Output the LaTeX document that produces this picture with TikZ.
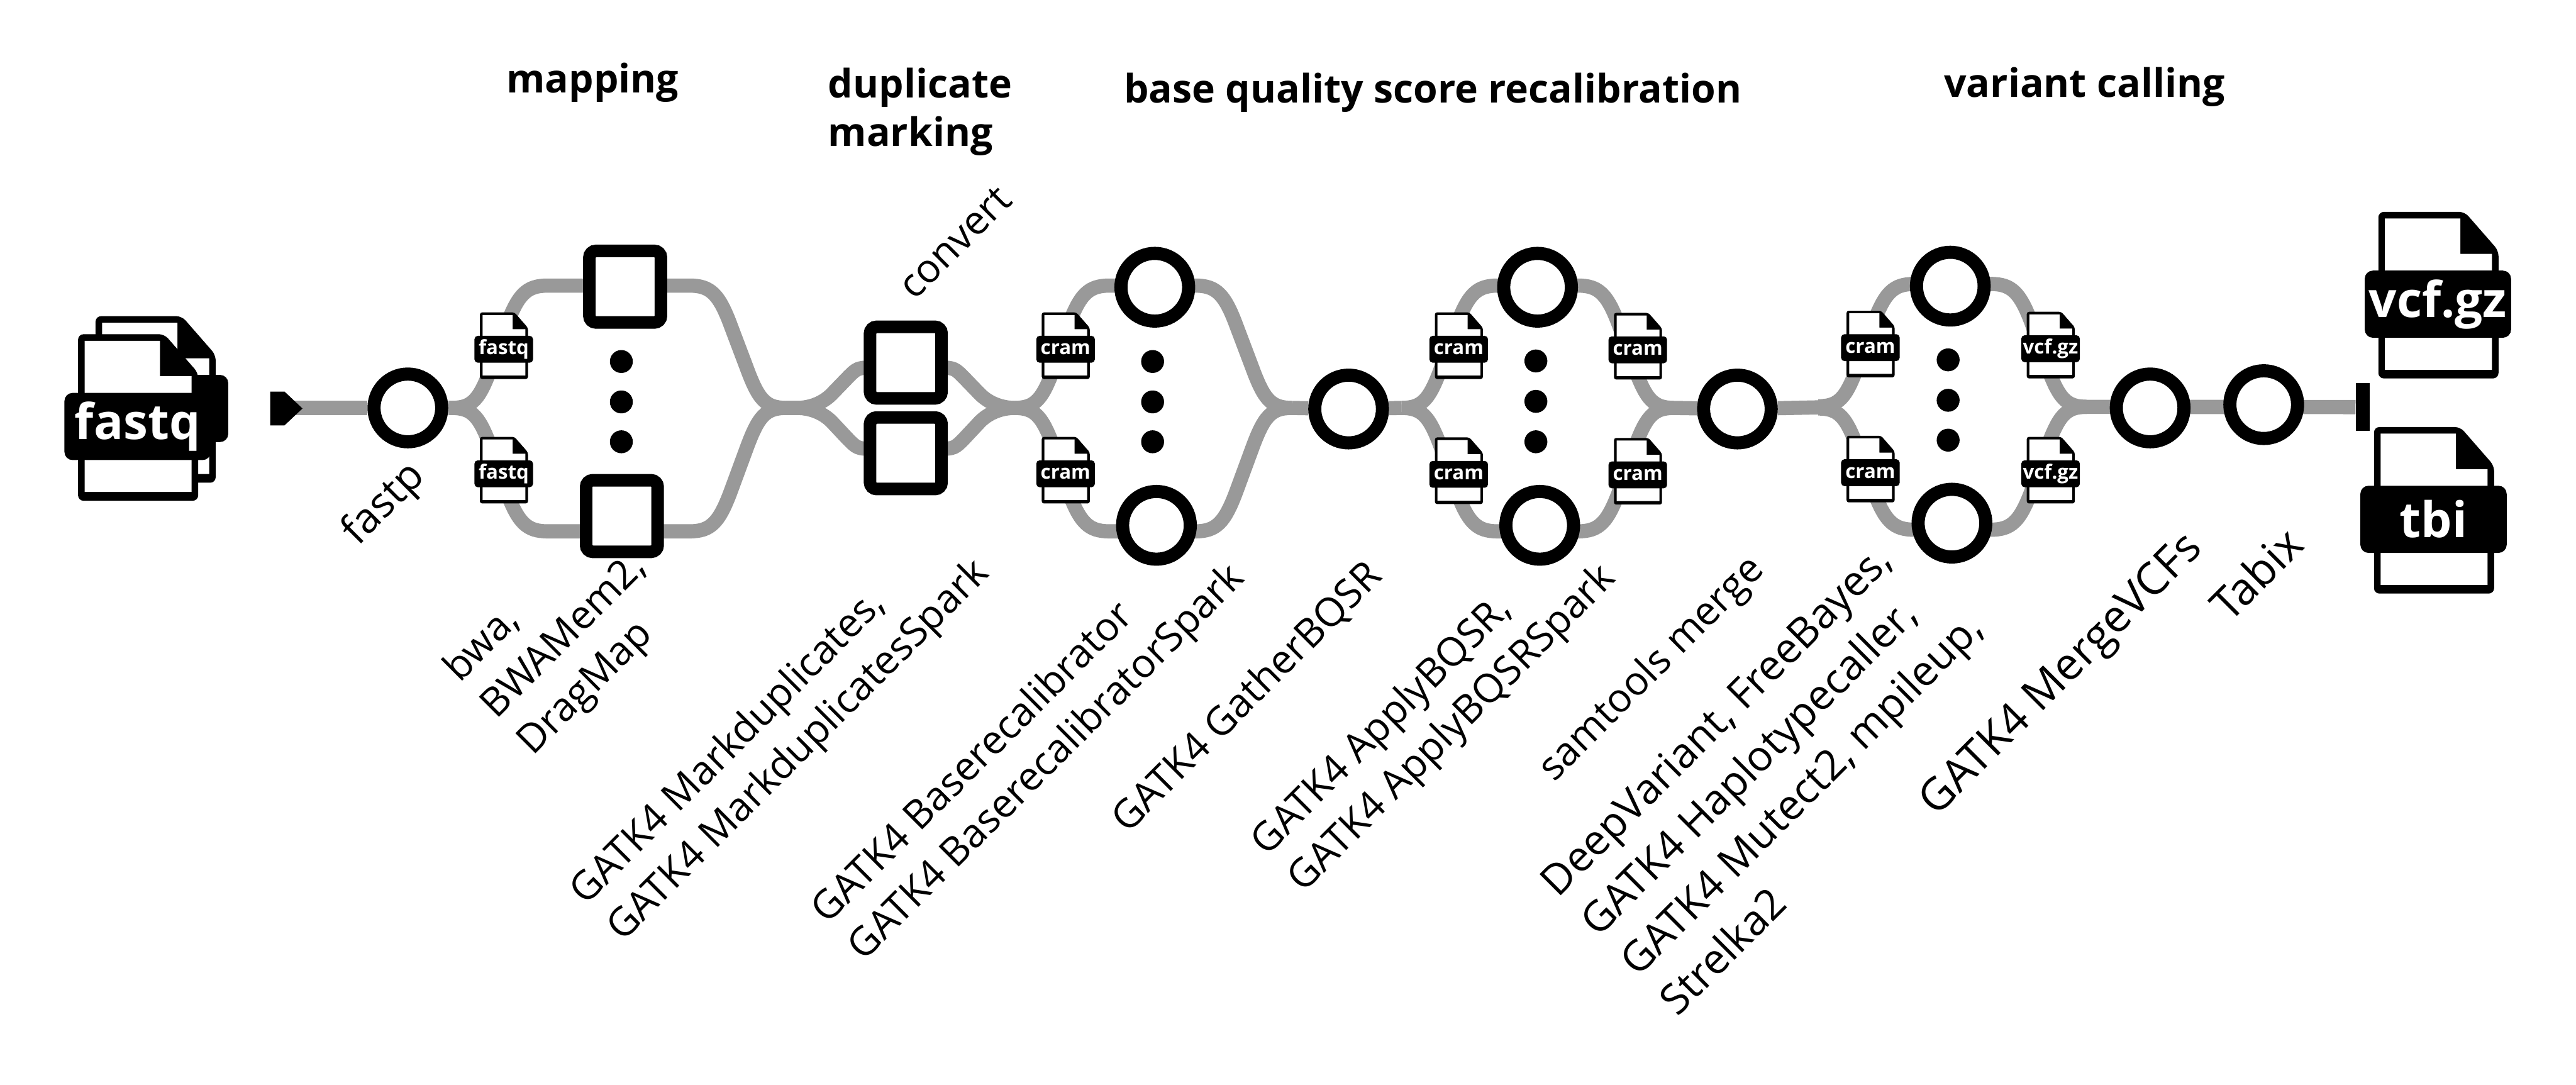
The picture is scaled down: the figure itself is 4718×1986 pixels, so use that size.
\documentclass[tikz,border=0pt]{standalone}
\usepackage{fontspec}
\setmainfont{Open Sans}
\usetikzlibrary{backgrounds,calc}
\definecolor{pipegrey}{HTML}{999999}
\tikzset{
  pipe/.style={draw=pipegrey,line width=6.5pt,line cap=butt},
  circ/.style={circle,draw=black,fill=white,line width=6pt,minimum size=31pt,inner sep=0pt},
  sq/.style={rectangle,draw=black,fill=white,line width=5.75pt,minimum size=32.75pt,inner sep=0pt,rounded corners=3pt},
  dot/.style={circle,fill=black,minimum size=10.5pt,inner sep=0pt},
  band/.style={rectangle,fill=black,text=white,inner sep=0pt},
  toollabel/.style={font=\fontsize{18.2}{23.75}\selectfont,align=left,rotate=45,anchor=base west,inner sep=0pt},
  heading/.style={font=\fontsize{18}{22.25}\selectfont\bfseries,align=left,anchor=base west,inner sep=0pt},
}
% name, x, y of the sheet's top left corner, scale, label
\newcommand\fileicon[5]{%
  \begin{scope}[shift={(#2,#3)},scale=#4]
    \pgfmathsetmacro\myrc{#4*2.5}
    \pgfmathsetmacro\myrb{#4*3.75}
    \pgfmathsetmacro\myfs{#4*22.5}
    \pgfmathsetmacro\mybw{#4*67}
    \pgfmathsetmacro\mybh{#4*30.75}
    \path[fill=black,rounded corners=\myrc pt] (0,0)--(158,0)--(220,71)--(220,305)--(0,305)--cycle;
    \path[fill=white] (12,12)--(150,12)--(150,77)--(208,77)--(208,289)--(12,289)--cycle;
    \node[band,rounded corners=\myrb pt,minimum width=\mybw pt,minimum height=\mybh pt,
      font=\bfseries\fontsize{\myfs}{\myfs}\selectfont] (#1) at (109,169) {#5};
  \end{scope}}
% one arm of a bundle: junction, arm start, arm end, junction, side (1 upper arm, -1 lower arm)
\newcommand\branch[5]{%
  \draw[pipe] (#1) .. controls +(38,0) and +(-22,#5*60) .. ($(#1)+(73,-#5*75)$)
    -- ($(#2)+(-76,#5*75)$) .. controls +(22,-#5*60) and +(-38,0) .. (#2)
    -- (#3) .. controls +(38,0) and +(-22,-#5*60) .. ($(#3)+(76,#5*75)$)
    -- ($(#4)+(-73,-#5*75)$) .. controls +(22,#5*60) and +(-38,0) .. (#4);}
\newcommand\tightbranch[5]{%
  \draw[pipe] (#1) .. controls +(24,0) and +(-16,#5*16) .. ($(#1)+(63,-#5*25)$)
    -- ($(#2)+(-47,#5*18)$) .. controls +(16,-#5*16) and +(-30,0) .. (#2)
    -- (#3) .. controls +(30,0) and +(-16,-#5*16) .. ($(#3)+(47,#5*18)$)
    -- ($(#4)+(-63,-#5*25)$) .. controls +(16,#5*16) and +(-24,0) .. (#4);}
\begin{document}
\begin{tikzpicture}[x=0.25pt,y=-0.25pt]
\useasboundingbox (0,0) rectangle (4718,1986);

% process nodes
\node[circ] (fastp) at (747,747) {};
\node[sq] (bwaT) at (1145,525) {};
\node[sq] (bwaB) at (1139,945) {};
\node[dot] (d1a) at (1138,662) {};
\node[dot] (d1b) at (1138,736) {};
\node[dot] (d1c) at (1138,809) {};
\node[sq] (mdT) at (1659,664) {};
\node[sq] (mdB) at (1659,830) {};
\node[circ] (brT) at (2115,526) {};
\node[circ] (brB) at (2118,962) {};
\node[dot] (d2a) at (2111,662) {};
\node[dot] (d2b) at (2111,736) {};
\node[dot] (d2c) at (2111,809) {};
\node[circ] (gather) at (2470,749) {};
\node[circ] (abT) at (2816,526) {};
\node[circ] (abB) at (2820,962) {};
\node[dot] (d3a) at (2813,661) {};
\node[dot] (d3b) at (2813,735) {};
\node[dot] (d3c) at (2813,809) {};
\node[circ] (merge) at (3182,749) {};
\node[circ] (vcT) at (3572,524) {};
\node[circ] (vcB) at (3575,958) {};
\node[dot] (d4a) at (3568,659) {};
\node[dot] (d4b) at (3568,733) {};
\node[dot] (d4c) at (3568,806) {};
\node[circ] (mergevcf) at (3938,747) {};
\node[circ] (tabix) at (4146,741) {};
\node[rectangle,fill=black,minimum width=6.25pt,minimum height=21.75pt,inner sep=0pt] (endbar) at (4327.5,745.5) {};

% junctions on the pipe
\coordinate (in) at (530,747);
\coordinate (j1) at (827,747);
\coordinate (j2) at (1440,747);
\coordinate (j3) at (1460,747);
\coordinate (j4) at (1858,747);
\coordinate (j5) at (2366,747);
\coordinate (j6) at (2567,747);
\coordinate (j7) at (3066,747);
\coordinate (j8a) at (3330,744);
\coordinate (j8b) at (3330,748);
\coordinate (j8) at (3330,746);
\coordinate (j9) at (3822,745);
\coordinate (a1) at (1003,523);\coordinate (a2) at (1263,523);
\coordinate (b1) at (1003,973);\coordinate (b2) at (1263,973);
\coordinate (a3) at (1600,673);\coordinate (a4) at (1718,673);
\coordinate (b3) at (1600,822);\coordinate (b4) at (1718,822);
\coordinate (a5) at (2032,523);\coordinate (a6) at (2189,523);
\coordinate (b5) at (2032,973);\coordinate (b6) at (2189,973);
\coordinate (a7) at (2743,523);\coordinate (a8) at (2890,523);
\coordinate (b7) at (2743,973);\coordinate (b8) at (2890,973);
\coordinate (a9) at (3506,520);\coordinate (a10) at (3646,520);
\coordinate (b9) at (3506,970);\coordinate (b10) at (3646,970);

% file icons
\fileicon{fqBack}{175}{579}{1}{}
\fileicon{fqFront}{143}{612}{1}{fastq}
\fileicon{fq1}{879}{572}{0.4}{fastq}
\fileicon{fq2}{879}{800}{0.4}{fastq}
\fileicon{cr1}{1908}{572}{0.4}{cram}
\fileicon{cr2}{1908}{800}{0.4}{cram}
\fileicon{cr3}{2628}{572}{0.4}{cram}
\fileicon{cr4}{2628}{801}{0.4}{cram}
\fileicon{cr5}{2956}{573}{0.4}{cram}
\fileicon{cr6}{2956}{802}{0.4}{cram}
\fileicon{cr7}{3382}{569}{0.4}{cram}
\fileicon{cr8}{3382}{798}{0.4}{cram}
\fileicon{vc1}{3712}{571}{0.4}{vcf.gz}
\fileicon{vc2}{3712}{800}{0.4}{vcf.gz}
\fileicon{vcf}{4356}{388}{1}{vcf.gz}
\fileicon{tbi}{4348}{782}{1}{tbi}

% input marker
\path[fill=black] (495,717)--(521,717)--(554,748)--(521,779)--(495,779)--cycle;

% pipes behind everything
\begin{scope}[on background layer]
  \fill[white] (0,0) rectangle (4718,1986);
  \draw[pipe] (in) -- (fastp) -- (j1);
  \branch{j1}{a1}{a2}{j2}{1}
  \branch{j1}{b1}{b2}{j2}{-1}
  \draw[pipe] (j2) -- (j3);
  \tightbranch{j3}{a3}{a4}{j4}{1}
  \tightbranch{j3}{b3}{b4}{j4}{-1}
  \branch{j4}{a5}{a6}{j5}{1}
  \branch{j4}{b5}{b6}{j5}{-1}
  \draw[pipe] (j5) -- (gather) -- (j6);
  \branch{j6}{a7}{a8}{j7}{1}
  \branch{j6}{b7}{b8}{j7}{-1}
  \draw[pipe] (j7) -- (merge) -- (j8);
  \branch{j8a}{a9}{a10}{j9}{1}
  \branch{j8b}{b9}{b10}{j9}{-1}
  \draw[pipe] (j9) -- (endbar);
\end{scope}

% headings
\node[heading] (hmap) at (927,170) {mapping};
\node[heading] (hdup) at (1516,268) {duplicate\\marking};
\node[heading] (hbq) at (2058,188) {base quality score recalibration};
\node[heading] (hvc) at (3560,178) {variant calling};

% tool labels
\node[toollabel,font=\fontsize{19}{23}\selectfont] (lfastp) at (655,1002) {fastp};
\node[toollabel] (lbwa) at (976,1386) {bwa,\\BWAMem2,\\DragMap};
\node[toollabel] (lconv) at (1675,552) {convert};
\node[toollabel] (lmd) at (1140,1727) {GATK4 Markduplicates,\\GATK4 MarkduplicatesSpark};
\node[toollabel] (lbr) at (1582,1762) {GATK4 Baserecalibrator\\GATK4 BaserecalibratorSpark};
\node[toollabel] (lgb) at (2065,1528) {GATK4 GatherBQSR};
\node[toollabel] (lab) at (2387,1637) {GATK4 ApplyBQSR,\\GATK4 ApplyBQSRSpark};
\node[toollabel] (lsm) at (2846,1434) {samtools merge};
\node[toollabel,font=\fontsize{19.2}{25.75}\selectfont] (lvc) at (3072,1864) {DeepVariant, FreeBayes,\\GATK4 Haplotypecaller,\\GATK4 Mutect2, mpileup,\\Strelka2};
\node[toollabel,font=\fontsize{20.4}{24}\selectfont] (lmv) at (3547,1497) {GATK4 MergeVCFs};
\node[toollabel,font=\fontsize{20.4}{24}\selectfont] (ltb) at (4083,1143) {Tabix};
\end{tikzpicture}
\end{document}
